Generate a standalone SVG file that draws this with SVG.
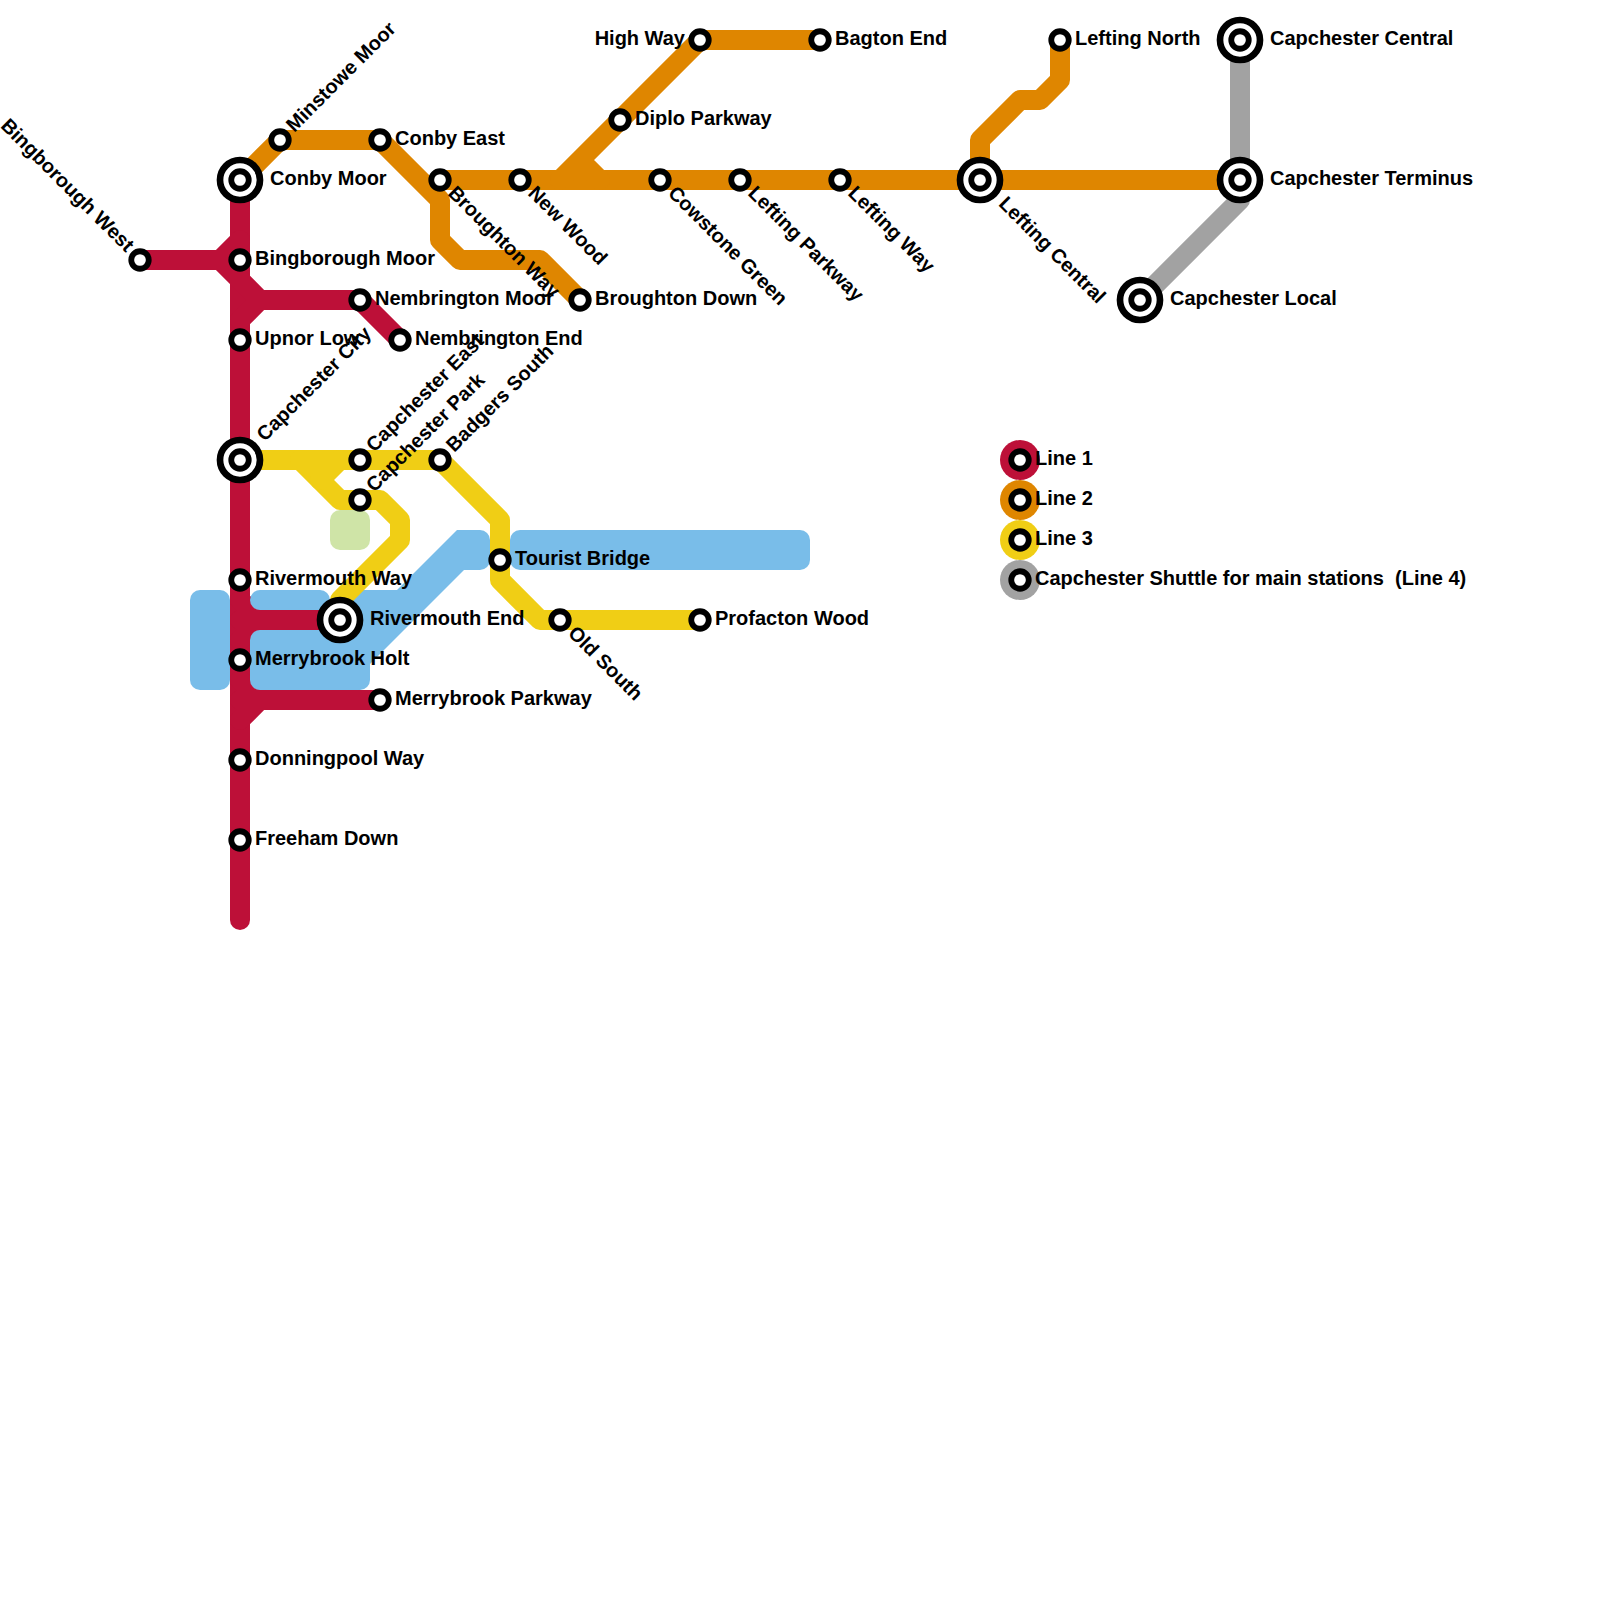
<svg xmlns="http://www.w3.org/2000/svg" width="1600" height="1600" viewBox="0 0 1600 1600">
<style>
text{font-family:"Liberation Sans",Arial,sans-serif;font-weight:bold;font-size:20px;fill:#000;white-space:pre}
.l{fill:none;stroke-width:20;stroke-linejoin:round;stroke-linecap:round}
.l1{stroke:#bd1038}.l2{stroke:#df8600}.l3{stroke:#f0ce15}.l4{stroke:#a2a2a2}
.w{fill:#79bde9}.g{fill:#cfe4a7}
.s{fill:#fff;stroke:#000;stroke-width:5.8}
.i{fill:#fff;stroke:#000;stroke-width:6.67}
.e{text-anchor:end}
</style>
<defs>
<g id="st"><circle class="s" r="8.75"/></g>
<g id="ic"><circle class="i" r="20"/><circle class="s" r="8.75"/></g>
</defs>
<g id="connectors">
<g id="line1">
<path class="l l1" d="M240 180V920"/>
<path class="l l1" d="M140 260H220L240 240M220 260L260 300H360L400 340M260 300L240 320"/>
<path class="l l1" d="M240 620H340M240 600L260 620L240 640"/>
<path class="l l1" d="M240 700H380M240 680L260 700L240 720"/>
</g>
<g id="water">
<rect class="w" x="190" y="590" width="40" height="100" rx="10"/>
<rect class="w" x="250" y="590" width="80" height="20" rx="10"/>
<rect class="w" x="250" y="630" width="120" height="60" rx="10"/>
<path class="w" d="M340 590H397L457 530H480A10 10 0 0 1 490 540V560A10 10 0 0 1 480 570H464L370 664H340Z"/>
<rect class="w" x="510" y="530" width="300" height="40" rx="10"/>
<rect class="g" x="330" y="510" width="40" height="40" rx="10"/>
</g>
<g id="line2">
<path class="l l2" d="M240 180L280 140H380L440 200V240L460 260H540L580 300"/>
<path class="l l2" d="M440 180H1240"/>
<path class="l l2" d="M560 180L700 40H820M580 160L600 180"/>
<path class="l l2" d="M1060 40V80L1040 100H1020L980 140V180"/>
</g>
<g id="line3">
<path class="l l3" d="M240 460H440L500 520V580L540 620H700"/>
<path class="l l3" d="M300 460L340 500H380L400 520V540L340 600"/>
<path class="l l3" d="M340 460L320 480"/>
</g>
<g id="line4">
<path class="l l4" d="M1240 40V200L1140 300"/>
</g>
</g>
<g id="legend">
<g id="leg1"><circle cx="1020" cy="460" r="20" fill="#bd1038"/><use href="#st" x="1020" y="460"/><text x="1035" y="465">Line 1</text></g>
<g id="leg2"><circle cx="1020" cy="500" r="20" fill="#df8600"/><use href="#st" x="1020" y="500"/><text x="1035" y="505">Line 2</text></g>
<g id="leg3"><circle cx="1020" cy="540" r="20" fill="#f0ce15"/><use href="#st" x="1020" y="540"/><text x="1035" y="545">Line 3</text></g>
<g id="leg4"><circle cx="1020" cy="580" r="20" fill="#a2a2a2"/><use href="#st" x="1020" y="580"/><text x="1035" y="585">Capchester Shuttle for main stations  (Line 4)</text></g>
</g>
<g id="n-conby-moor"><use href="#ic" x="240" y="180"/><text x="270" y="185">Conby Moor</text></g>
<g id="n-minstowe-moor"><use href="#st" x="280" y="140"/><text transform="translate(280 140) rotate(-45)" x="15" y="5">Minstowe Moor</text></g>
<g id="n-conby-east"><use href="#st" x="380" y="140"/><text x="395" y="145">Conby East</text></g>
<g id="n-broughton-way"><use href="#st" x="440" y="180"/><text transform="translate(440 180) rotate(45)" x="15" y="5">Broughton Way</text></g>
<g id="n-new-wood"><use href="#st" x="520" y="180"/><text transform="translate(520 180) rotate(45)" x="15" y="5">New Wood</text></g>
<g id="n-high-way"><use href="#st" x="700" y="40"/><text class="e" x="685" y="45">High Way</text></g>
<g id="n-bagton-end"><use href="#st" x="820" y="40"/><text x="835" y="45">Bagton End</text></g>
<g id="n-diplo-parkway"><use href="#st" x="620" y="120"/><text x="635" y="125">Diplo Parkway</text></g>
<g id="n-cowstone-green"><use href="#st" x="660" y="180"/><text transform="translate(660 180) rotate(45)" x="15" y="5">Cowstone Green</text></g>
<g id="n-lefting-parkway"><use href="#st" x="740" y="180"/><text transform="translate(740 180) rotate(45)" x="15" y="5">Lefting Parkway</text></g>
<g id="n-lefting-way"><use href="#st" x="840" y="180"/><text transform="translate(840 180) rotate(45)" x="15" y="5">Lefting Way</text></g>
<g id="n-lefting-central"><use href="#ic" x="980" y="180"/><text transform="translate(980 180) rotate(45)" x="30" y="5">Lefting Central</text></g>
<g id="n-lefting-north"><use href="#st" x="1060" y="40"/><text x="1075" y="45">Lefting North</text></g>
<g id="n-capchester-central"><use href="#ic" x="1240" y="40"/><text x="1270" y="45">Capchester Central</text></g>
<g id="n-capchester-terminus"><use href="#ic" x="1240" y="180"/><text x="1270" y="185">Capchester Terminus</text></g>
<g id="n-capchester-local"><use href="#ic" x="1140" y="300"/><text x="1170" y="305">Capchester Local</text></g>
<g id="n-broughton-down"><use href="#st" x="580" y="300"/><text x="595" y="305">Broughton Down</text></g>
<g id="n-bingborough-west"><use href="#st" x="140" y="260"/><text class="e" transform="translate(140 260) rotate(45)" x="-15" y="5">Bingborough West</text></g>
<g id="n-bingborough-moor"><use href="#st" x="240" y="260"/><text x="255" y="265">Bingborough Moor</text></g>
<g id="n-upnor-low"><use href="#st" x="240" y="340"/><text x="255" y="345">Upnor Low</text></g>
<g id="n-nembrington-moor"><use href="#st" x="360" y="300"/><text x="375" y="305">Nembrington Moor</text></g>
<g id="n-nembrington-end"><use href="#st" x="400" y="340"/><text x="415" y="345">Nembrington End</text></g>
<g id="n-capchester-city"><use href="#ic" x="240" y="460"/><text transform="translate(240 460) rotate(-45)" x="30" y="5">Capchester City</text></g>
<g id="n-capchester-east"><use href="#st" x="360" y="460"/><text transform="translate(360 460) rotate(-45)" x="15" y="5">Capchester East</text></g>
<g id="n-capchester-park"><use href="#st" x="360" y="500"/><text transform="translate(360 500) rotate(-45)" x="15" y="5">Capchester Park</text></g>
<g id="n-badgers-south"><use href="#st" x="440" y="460"/><text transform="translate(440 460) rotate(-45)" x="15" y="5">Badgers South</text></g>
<g id="n-tourist-bridge"><use href="#st" x="500" y="560"/><text x="515" y="565">Tourist Bridge</text></g>
<g id="n-old-south"><use href="#st" x="560" y="620"/><text transform="translate(560 620) rotate(45)" x="15" y="5">Old South</text></g>
<g id="n-profacton-wood"><use href="#st" x="700" y="620"/><text x="715" y="625">Profacton Wood</text></g>
<g id="n-rivermouth-way"><use href="#st" x="240" y="580"/><text x="255" y="585">Rivermouth Way</text></g>
<g id="n-rivermouth-end"><use href="#ic" x="340" y="620"/><text x="370" y="625">Rivermouth End</text></g>
<g id="n-merrybrook-holt"><use href="#st" x="240" y="660"/><text x="255" y="665">Merrybrook Holt</text></g>
<g id="n-merrybrook-parkway"><use href="#st" x="380" y="700"/><text x="395" y="705">Merrybrook Parkway</text></g>
<g id="n-donningpool-way"><use href="#st" x="240" y="760"/><text x="255" y="765">Donningpool Way</text></g>
<g id="n-freeham-down"><use href="#st" x="240" y="840"/><text x="255" y="845">Freeham Down</text></g>
</svg>
